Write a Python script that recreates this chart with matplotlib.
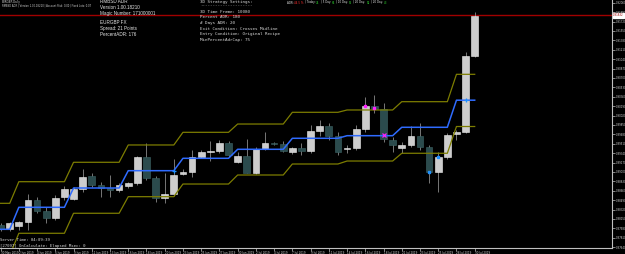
import numpy as np
import matplotlib.pyplot as plt

# daily EURGBP candles, 30 May 2019 .. 30 Jul 2019 (broker has Sunday bars)
opens = [0.88040, 0.87962, 0.88022, 0.88100, 0.88492, 0.88293, 0.88161, 0.88541, 0.88505, 0.88686,
         0.88926, 0.88763, 0.88704, 0.88673, 0.88751, 0.88794, 0.89275, 0.88895, 0.88523, 0.88601,
         0.88957, 0.89004, 0.89275, 0.89360, 0.89384, 0.89528, 0.89174, 0.89293, 0.88986, 0.89409,
         0.89528, 0.89505, 0.89366, 0.89427, 0.89384, 0.89740, 0.89830, 0.89649, 0.89409, 0.89438,
         0.89771, 0.90192, 0.90132, 0.89577, 0.89438, 0.89487, 0.89649, 0.89445, 0.89004, 0.89275,
         0.89691, 0.89727, 0.91102]
highs = [0.88080, 0.88094, 0.88118, 0.88601, 0.88552, 0.88371, 0.88582, 0.88745, 0.88733, 0.89053,
         0.88975, 0.88823, 0.88944, 0.88794, 0.88823, 0.89288, 0.89528, 0.88926, 0.88986, 0.89228,
         0.89047, 0.89396, 0.89396, 0.89564, 0.89577, 0.89554, 0.89366, 0.89590, 0.89445, 0.89722,
         0.89546, 0.89564, 0.89456, 0.89528, 0.89848, 0.89939, 0.89879, 0.89727, 0.89487, 0.89848,
         0.90360, 0.90391, 0.90252, 0.89637, 0.89546, 0.89830, 0.89890, 0.89487, 0.89366, 0.89698,
         0.89758, 0.91174, 0.91897]
lows = [0.87940, 0.87931, 0.87949, 0.87949, 0.88252, 0.88071, 0.88130, 0.88492, 0.88492, 0.88642,
        0.88722, 0.88552, 0.88552, 0.88642, 0.88704, 0.88763, 0.88854, 0.88461, 0.88432, 0.88564,
        0.88939, 0.88903, 0.89246, 0.89203, 0.89337, 0.89275, 0.89156, 0.88975, 0.88962, 0.89396,
        0.89487, 0.89366, 0.89324, 0.89306, 0.89337, 0.89649, 0.89577, 0.89306, 0.89337, 0.89396,
        0.89727, 0.90060, 0.89546, 0.89366, 0.89337, 0.89445, 0.89396, 0.88794, 0.88642, 0.89228,
        0.89577, 0.89709, 0.91084]
closes = [0.87975, 0.88071, 0.88100, 0.88492, 0.88299, 0.88161, 0.88523, 0.88686, 0.88686, 0.88913,
          0.88763, 0.88704, 0.88673, 0.88763, 0.88799, 0.89275, 0.88895, 0.88523, 0.88595, 0.88944,
          0.89004, 0.89275, 0.89360, 0.89384, 0.89528, 0.89306, 0.89293, 0.88986, 0.89409, 0.89528,
          0.89505, 0.89384, 0.89427, 0.89384, 0.89745, 0.89830, 0.89649, 0.89366, 0.89438, 0.89776,
          0.90197, 0.90132, 0.89590, 0.89487, 0.89487, 0.89649, 0.89445, 0.89004, 0.89275, 0.89668,
          0.89722, 0.91096, 0.91820]

# weekly ADR bands (value per week, bars per week)
week_len = [2, 6, 6, 6, 6, 6, 6, 6, 6, 3]
upper_w = [0.88432, 0.88823, 0.89174, 0.89487, 0.89716, 0.89866, 0.90078, 0.90120, 0.90270, 0.90765]
mid_w = [0.87962, 0.88360, 0.88709, 0.89022, 0.89246, 0.89409, 0.89608, 0.89655, 0.89807, 0.90297]
lower_w = [0.87492, 0.87890, 0.88252, 0.88552, 0.88781, 0.88944, 0.89143, 0.89197, 0.89337, 0.89821]

# signal markers
pink_sq_x = [40, 41]
pink_sq_y = [0.90192, 0.90150]
pink_x_x = [42]
pink_x_y = [0.89662]
blue_sq_x = [47, 48]
blue_sq_y = [0.88998, 0.89275]
blue_pl_x = [19, 51]
blue_pl_y = [0.89022, 0.90297]

date_labels = ['30 May 2019', '2 Jun 2019', '4 Jun 2019', '6 Jun 2019', '9 Jun 2019', '11 Jun 2019',
               '13 Jun 2019', '16 Jun 2019', '18 Jun 2019', '20 Jun 2019', '23 Jun 2019', '25 Jun 2019',
               '27 Jun 2019', '30 Jun 2019', '2 Jul 2019', '4 Jul 2019', '7 Jul 2019', '9 Jul 2019',
               '11 Jul 2019', '14 Jul 2019', '16 Jul 2019', '18 Jul 2019', '21 Jul 2019', '23 Jul 2019',
               '25 Jul 2019', '28 Jul 2019', '30 Jul 2019']
price_ticks = [0.92060 - 0.0017 * j for j in range(27)]
last_price = 0.91832

W, H = 625, 254
fig = plt.figure(figsize=(W / 100, H / 100), dpi=100, facecolor='black')
ax = fig.add_axes([0, 1 - 247.7 / H, 612 / W, 247.7 / H], facecolor='black')

o = np.array(opens); c = np.array(closes)
hi = np.array(highs); lo = np.array(lows)
idx = np.arange(len(o))
bull = c >= o

ax.vlines(idx, lo, hi, color='#8a8a8a', lw=0.6, zorder=2)
ax.bar(idx[bull], np.maximum(c - o, 0.00003)[bull], bottom=o[bull], width=0.74,
       color='#cdcdcd', edgecolor='#efefef', lw=0.4, zorder=3)
ax.bar(idx[~bull], (o - c)[~bull], bottom=c[~bull], width=0.74,
       color='#2b4b4d', edgecolor='#3d6466', lw=0.4, zorder=3)

upper = np.repeat(upper_w, week_len)
mid = np.repeat(mid_w, week_len)
lower = np.repeat(lower_w, week_len)
ax.plot(idx, upper, color='#7d7d00', lw=0.9, zorder=4)
ax.plot(idx, lower, color='#7d7d00', lw=0.9, zorder=4)
ax.plot(idx, mid, color='#2f6bff', lw=1.1, zorder=4)

ax.plot(pink_sq_x, pink_sq_y, 's', color='#ff20ff', ms=2, zorder=5)
ax.plot(pink_x_x, pink_x_y, 'x', color='#ff20ff', ms=3, mew=0.9, zorder=5)
ax.plot(blue_sq_x, blue_sq_y, 's', color='#1e90ff', ms=2, zorder=5)
ax.plot(blue_pl_x, blue_pl_y, '+', color='#1e90ff', ms=3, mew=0.9, zorder=5)

ax.axhline(last_price, color='#a00000', lw=1, zorder=1)

ax.set_xlim(-0.066, 67.06)
ax.set_ylim(0.876293, 0.92109)

for s in ['left', 'top']:
    ax.spines[s].set_visible(False)
for s in ['right', 'bottom']:
    ax.spines[s].set_color('#bfbfbf')
    ax.spines[s].set_linewidth(0.8)

ax.yaxis.tick_right()
ax.set_yticks(price_ticks)
ax.set_yticklabels(['%.5f' % p for p in price_ticks])
ax.tick_params(axis='y', colors='#bfbfbf', labelcolor='#d0d0d0', labelsize=1.9, length=2, width=0.5, pad=0.5)
ax.set_xticks(idx[::2])
ax.set_xticklabels(date_labels)
ax.tick_params(axis='x', colors='#bfbfbf', labelcolor='#d0d0d0', labelsize=2.0, length=2, width=0.5, pad=0.5)
for lbl in ax.get_xticklabels():
    lbl.set_ha('left')

ax.text(1.002, last_price, '%.5f' % last_price, transform=ax.get_yaxis_transform(),
        fontsize=1.9, color='#a00000', va='center', ha='left',
        bbox=dict(boxstyle='square,pad=0.2', fc='white', ec='white'), zorder=6)


def px(x, y):
    return x / W, 1 - y / H


# top-left info
fig.text(*px(2, 1.8), 'EURGBP,Daily', fontsize=2.0, color='#d0d0d0', va='center')
fig.text(*px(2, 5.5), 'RMBSD ADR | Version 1.00.18210 | Account Risk: 0.00 | Fixed Lots: 0.07',
         fontsize=1.8, color='#d0d0d0', va='center')
info = ['RMBSD ADR', 'Version 1.00.18210', 'Magic Number: 171000001',
        'EURGBP FX', 'Spread: 21 Points', 'PercentADR: 176']
info_y = [1.9, 7.8, 14.0, 22.3, 28.3, 34.0]
for t, yy in zip(info, info_y):
    fig.text(*px(100, yy), t, fontsize=3.3, color='#e6e6e6', va='center', family='Liberation Sans')

settings = ['3D Strategy Settings:', '---------------------', '3D Time Frame: 10080',
            'Percent ADR: 180', '# Days ADR: 20', 'Exit Condition: Crosses Midline',
            'Entry Condition: Original Recipe', 'MinPercentAdrCap: 75']
settings_y = [1.8, 5.4, 11.7, 16.9, 23.2, 28.6, 34.4, 40.2]
for t, yy in zip(settings, settings_y):
    fig.text(*px(200, yy), t, fontsize=3.1, color='#d8d8d8', va='center', family='DejaVu Sans Mono')

# ADR header, coloured pieces chained one after another
segs = [('ADR: ', '#e0e0e0'), ('44.5 %', '#ff3030'), (' | Today: ', '#e0e0e0'), ('74', '#30e030'),
        (' | 5 Day: ', '#e0e0e0'), ('61', '#30e030'), (' | 10 Day: ', '#e0e0e0'), ('55', '#30e030'),
        (' | 20 Day: ', '#e0e0e0'), ('52', '#30e030'), (' | 20 Day: ', '#e0e0e0'), ('43', '#30e030')]
prev = fig.text(*px(287, 3.5), segs[0][0], fontsize=2.0, color=segs[0][1], va='baseline')
for t, col in segs[1:]:
    prev = ax.annotate(t, xy=(1, 0), xycoords=prev, fontsize=2.0, color=col, va='bottom',
                       annotation_clip=False)

# bottom-left status
fig.text(*px(0.5, 240.3), 'Server Time: 04:09:39', fontsize=2.9, color='#d8d8d8', va='center',
         family='DejaVu Sans Mono')
fig.text(*px(0.5, 245.6), '[27097] OnCalculate: Elapsed Msec: 0', fontsize=2.9, color='#d8d8d8',
         va='center', family='DejaVu Sans Mono')

fig.savefig('out.png', dpi=100, facecolor='black')
